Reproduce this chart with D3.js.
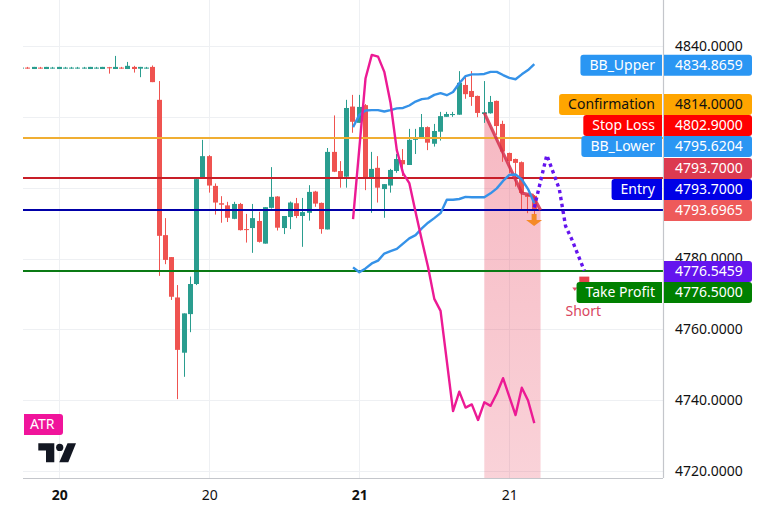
<!DOCTYPE html>
<html>
<head>
<meta charset="utf-8">
<script src="https://cdn.jsdelivr.net/npm/d3@7"></script>
<style>
  html, body { margin: 0; padding: 0; background: #fff; }
  svg { display: block; }
  text { font-family: "Noto Sans", sans-serif; font-size: 14px; }
</style>
</head>
<body>
<svg id="chart" width="771" height="521"></svg>
<script>
// Hourly XAUUSD-style candles, one value per bar
const opens = [4833.7,4833.9,4833.5,4833.9,4833.5,4833.7,4833.5,4833.7,4833.7,4833.7,4833.7,4833.5,4833.7,4833.5,4834.0,4833.5,4833.9,4833.5,4834.1,4833.6,4833.7,4834.1,
  4824.8,4786.6,4780.4,4769.0,4753.4,4764.3,4772.8,4802.9,4808.9,4800.5,4795.6,4795.0,4791.2,4795.4,4788.3,4788.6,4790.6,4784.2,4794.3,4797.5,4788.6,4791.7,4795.6,4792.0,4792.9,4798.9,4795.7,4788.2,4810.1,4804.7,4803.1,
  4822.9,4818.3,4823.3,4803.0,4805.6,4799.6,4800.6,4804.7,4807.8,4806.4,4813.5,4814.2,4817.1,4812.4,4815.8,4820.0,4820.5,4820.6,4829.0,4827.3,4825.9,4820.8,4821.0,4824.5,4818.0,4809.8,4808.1,4807.2,4797.9,4797.7];
const highs = [4834.1,4834.1,4834.1,4834.1,4834.1,4834.1,4834.1,4834.1,4834.1,4834.1,4834.1,4834.1,4834.1,4834.1,4834.1,4837.2,4834.1,4835.5,4834.4,4834.1,4834.1,4834.5,
  4830.1,4791.4,4780.4,4772.5,4764.5,4774.9,4802.4,4813.5,4809.2,4801.2,4797.6,4796.0,4796.0,4795.7,4792.6,4795.4,4793.2,4794.5,4805.8,4797.6,4792.0,4796.1,4797.1,4797.1,4800.7,4799.1,4795.8,4811.2,4820.4,4807.5,4824.8,
  4826.2,4826.2,4823.6,4810.1,4808.9,4801.0,4805.3,4809.5,4810.9,4816.6,4816.6,4820.8,4817.3,4818.0,4821.4,4821.4,4821.4,4832.9,4831.5,4832.9,4826.0,4830.1,4825.9,4824.6,4818.9,4809.9,4808.2,4807.4,4798.1,4797.9];
const lows = [4833.6,4833.6,4833.5,4833.6,4833.5,4833.6,4833.5,4833.6,4833.6,4833.6,4833.6,4833.5,4833.6,4833.5,4832.2,4833.5,4833.6,4833.5,4832.5,4831.2,4833.6,4829.8,
  4775.1,4778.4,4768.3,4740.3,4746.6,4759.2,4772.5,4802.9,4798.6,4792.4,4790.1,4790.3,4791.1,4787.9,4784.5,4781.6,4784.5,4784.2,4794.1,4787.9,4786.9,4788.3,4791.4,4783.3,4790.7,4794.6,4787.0,4788.2,4804.4,4800.0,4800.0,
  4815.5,4818.3,4799.3,4792.9,4795.8,4791.5,4798.6,4804.2,4803.3,4806.4,4809.5,4814.2,4810.6,4811.6,4813.3,4820.0,4820.0,4820.6,4825.1,4823.1,4819.9,4818.3,4820.9,4814.9,4807.3,4804.1,4800.3,4793.7,4792.8,4792.3];
const closes = [4833.9,4833.7,4834.1,4833.7,4834.1,4833.9,4834.1,4833.9,4833.9,4833.9,4833.9,4834.1,4833.9,4834.1,4833.7,4834.1,4833.7,4834.4,4833.5,4834.1,4833.9,4829.8,
  4786.4,4779.6,4769.2,4754.2,4764.5,4772.8,4802.4,4808.9,4800.6,4795.8,4795.2,4791.5,4795.4,4788.0,4788.1,4791.4,4784.7,4794.5,4797.4,4788.7,4792.0,4795.8,4792.0,4793.1,4798.8,4795.5,4788.3,4810.1,4804.5,4802.8,4822.5,
  4818.6,4822.8,4802.8,4805.3,4800.0,4801.0,4805.0,4808.1,4806.6,4813.5,4813.8,4817.1,4812.7,4816.0,4820.2,4820.8,4820.8,4829.6,4826.4,4825.6,4821.1,4821.3,4824.2,4817.4,4810.2,4807.5,4807.0,4798.5,4797.4,4793.6965];

// Bollinger bands and the ATR trace start at this bar
const bandStart = 53;
const bbUpper = [4817.1,4820.5,4821.8,4821.9,4821.9,4821.5,4821.9,4822.4,4822.5,4823.2,4824.3,4825.0,4825.2,4826.2,4826.7,4826.1,4827.0,4829.5,4831.5,4832.0,4832.0,4832.1,4832.7,4832.7,4831.8,4831.0,4830.6,4832.0,4833.2,4834.8659];
const bbLower = [4777.5,4776.1,4777.2,4778.6,4779.4,4781.4,4782.1,4782.7,4784.2,4785.7,4786.6,4788.5,4790.1,4791.4,4792.8,4796.6,4796.6,4796.8,4797.4,4797.3,4797.3,4797.3,4798.4,4799.8,4801.9,4803.6,4803.7,4802.3,4799.6,4795.6204];
// ATR rescaled onto the price axis
const atrOnPrice = [4791.1,4811.0,4830.9,4837.5,4837.0,4832.7,4823.9,4810.6,4804.1,4801.3,4793.1,4785.2,4777.6,4768.6,4765.2,4751.1,4736.9,4742.4,4737.9,4738.8,4734.4,4739.4,4738.4,4741.9,4746.2,4741.0,4735.8,4743.5,4739.9,4733.5];

// Forecast path after the last bar
const forecastBars = [82, 84, 86, 87, 88, 90];
const forecastPrices = [4794.4, 4809.2, 4799.6, 4789.2, 4785.4, 4776.5459];

// Trade path; the shaded zone fills everything beneath it
const tradeBars = [74, 80, 81.7, 83];
const tradePrices = [4821.1, 4798.5, 4797.9, 4793.7];

// Horizontal trade levels
const levelPrices = [4814, 4802.9, 4793.7, 4776.5];
const levelColors = ["#f0ae33", "#c81e28", "#0000a8", "#0a7a14"];

// Grid prices, and the ones that get a printed label (the tag stack covers the others)
const priceTicks = [4720, 4740, 4760, 4780, 4800, 4820, 4840];
const labelledPrices = [4720, 4740, 4760, 4780, 4840];
const dayBars = [6, 30, 54, 78];
const dayLabels = ["20", "20", "21", "21"];
const dayBold = [true, false, true, false];

// Right-hand tags; tagRows counts tag heights away from the anchor price
const tagNames = ["BB_Upper", "Confirmation", "Stop Loss", "BB_Lower", "", "Entry", "", "", "Take Profit"];
const tagValues = ["4834.8659", "4814.0000", "4802.9000", "4795.6204", "4793.7000", "4793.7000", "4793.6965", "4776.5459", "4776.5000"];
const tagAnchors = [4834.8659, 4793.6965, 4793.6965, 4793.6965, 4793.6965, 4793.6965, 4793.6965, 4776.5459, 4776.5459];
const tagRows = [0.04, -5.05, -4.05, -3.05, -2, -1, 0, 0, 1];
const tagFills = ["#2a96f3", "#ffa500", "#ff0000", "#2a96f3", "#dc3a50", "#0000e6", "#ee5a5a", "#6414ee", "#008000"];
const tagInks = ["#fff", "#111", "#fff", "#fff", "#fff", "#fff", "#fff", "#fff", "#fff"];

const shortBar = 90;
const shortPrice = 4773.9;

const svg = d3.select("#chart");
const plot = { left: 23, right: 663, top: 0, bottom: 478 };
const tagH = 21;

const x = d3.scaleLinear().domain([0, 100]).range([21.8, 646.8]);
const y = d3.scaleLinear().domain([4720, 4840]).range([471, 46]);

const defs = svg.append("defs");
defs.append("clipPath").attr("id", "plot-clip").append("rect")
  .attr("x", plot.left).attr("y", plot.top)
  .attr("width", plot.right - plot.left).attr("height", plot.bottom - plot.top);
const grad = defs.append("linearGradient").attr("id", "zone-fill")
  .attr("x1", 0).attr("y1", 0).attr("x2", 0).attr("y2", 1);
grad.append("stop").attr("offset", 0).attr("stop-color", "#e8455f").attr("stop-opacity", 0.38);
grad.append("stop").attr("offset", 1).attr("stop-color", "#e8455f").attr("stop-opacity", 0.24);

// Grid
const gridColor = "#eef0f3";
svg.append("g").selectAll("line").data(priceTicks).join("line")
  .attr("x1", plot.left).attr("x2", plot.right)
  .attr("y1", d => Math.round(y(d)) + 0.5).attr("y2", d => Math.round(y(d)) + 0.5)
  .attr("stroke", gridColor);
svg.append("g").selectAll("line").data(dayBars).join("line")
  .attr("x1", d => Math.floor(x(d) - 0.1) + 0.5).attr("x2", d => Math.floor(x(d) - 0.1) + 0.5)
  .attr("y1", plot.top).attr("y2", plot.bottom)
  .attr("stroke", gridColor);

const g = svg.append("g").attr("clip-path", "url(#plot-clip)");

// Shaded trade zone
const zoneArea = d3.area().x(d => x(d[0])).y0(plot.bottom).y1(d => y(d[1]));
g.append("path")
  .attr("d", zoneArea(tradeBars.map((b, i) => [b, tradePrices[i]])))
  .attr("fill", "url(#zone-fill)");

// Candles
const barIdx = d3.range(opens.length);
const colorOf = i => closes[i] >= opens[i] ? "#2a9d8f" : "#ef5350";
const px = i => Math.floor(x(i) - 0.1);
g.append("g").selectAll("rect").data(barIdx).join("rect")
  .attr("x", px).attr("width", 1)
  .attr("y", i => y(highs[i]))
  .attr("height", i => y(lows[i]) - y(highs[i]))
  .attr("fill", colorOf);
g.append("g").selectAll("rect").data(barIdx).join("rect")
  .attr("x", i => px(i) - 2).attr("width", 5)
  .attr("y", i => y(Math.max(opens[i], closes[i])))
  .attr("height", i => Math.max(1, y(Math.min(opens[i], closes[i])) - y(Math.max(opens[i], closes[i]))))
  .attr("fill", colorOf);

// Trade levels, snapped to whole pixels so the 2px strokes stay crisp
g.append("g").selectAll("line").data(levelPrices).join("line")
  .attr("x1", plot.left).attr("x2", plot.right)
  .attr("y1", d => Math.round(y(d) + 0.2)).attr("y2", d => Math.round(y(d) + 0.2))
  .attr("stroke", (d, i) => levelColors[i])
  .attr("stroke-width", 2);

// Band, ATR and trade lines
const line = d3.line().x(d => x(d[0])).y(d => y(d[1]));
const series = arr => arr.map((v, i) => [bandStart + i, v]);
g.append("path").attr("d", line(tradeBars.map((b, i) => [b, tradePrices[i]])))
  .attr("fill", "none").attr("stroke", "#d42f4c").attr("stroke-opacity", 0.85).attr("stroke-width", 3.2);
[bbUpper, bbLower].forEach(arr => {
  g.append("path").attr("d", line(series(arr)))
    .attr("fill", "none").attr("stroke", "#3592e8").attr("stroke-width", 2.4)
    .attr("stroke-linejoin", "round");
});
g.append("path").attr("d", line(series(atrOnPrice)))
  .attr("fill", "none").attr("stroke", "#ec1a94").attr("stroke-width", 2.4)
  .attr("stroke-linejoin", "round");

// Dotted forecast
g.append("path").attr("d", line(forecastBars.map((b, i) => [b, forecastPrices[i]])))
  .attr("fill", "none").attr("stroke", "#6414ee").attr("stroke-width", 3.4)
  .attr("stroke-dasharray", "3.4 3.6");

// Down arrow under the last bar
const arrowX = x(82) - 0.2;
const arrowY = y(4790.9);
g.append("path")
  .attr("d", `M${arrowX - 2.5},${arrowY - 6}h5v6h5.5l-8,6l-8,-6h5.5z`)
  .attr("fill", "#f58a26");

// Short signal marker
g.append("rect").attr("x", x(shortBar) - 5).attr("y", y(shortPrice) - 3.5)
  .attr("width", 10).attr("height", 8).attr("fill", "#e8414f");
g.append("path")
  .attr("d", `M${x(shortBar) - 12},${y(shortPrice) + 7.5}h5l-2.5,3.5z`)
  .attr("fill", "#e0526a");
svg.append("text").attr("x", x(shortBar) - 1).attr("y", y(shortPrice) + 36)
  .attr("text-anchor", "middle").attr("fill", "#d9475f").text("Short");

// Price axis
const yAxis = svg.append("g").attr("transform", `translate(${plot.right},0)`)
  .call(d3.axisRight(y).tickValues(labelledPrices).tickFormat(d3.format(".4f")).tickSize(0).tickPadding(12));
yAxis.select(".domain").remove();
yAxis.selectAll("text").attr("fill", "#111").style("font-size", "14px").style("font-family", '"Noto Sans", sans-serif');

// Time axis
const xAxis = svg.append("g").attr("transform", `translate(0,${plot.bottom})`)
  .call(d3.axisBottom(x).tickValues(dayBars).tickFormat((d, i) => dayLabels[i]).tickSize(0).tickPadding(12));
xAxis.select(".domain").remove();
xAxis.selectAll("text").attr("fill", "#111")
  .style("font-size", "14px").style("font-family", '"Noto Sans", sans-serif')
  .style("font-weight", (d, i) => dayBold[i] ? 700 : 400);

svg.append("line").attr("x1", plot.left).attr("x2", plot.right)
  .attr("y1", plot.bottom + 0.5).attr("y2", plot.bottom + 0.5).attr("stroke", "#c4c6cb").attr("stroke-width", 1.2);
svg.append("line").attr("x1", plot.right + 0.5).attr("x2", plot.right + 0.5)
  .attr("y1", plot.top).attr("y2", plot.bottom).attr("stroke", "#c4c6cb").attr("stroke-width", 1.2);

// Rect with rounding on one side only
const sideBox = (bx, by, w, h, r, left) => left
  ? `M${bx + w},${by}H${bx + r}Q${bx},${by} ${bx},${by + r}V${by + h - r}Q${bx},${by + h} ${bx + r},${by + h}H${bx + w}Z`
  : `M${bx},${by}H${bx + w - r}Q${bx + w},${by} ${bx + w},${by + r}V${by + h - r}Q${bx + w},${by + h} ${bx + w - r},${by + h}H${bx}Z`;

// Name and value tags
tagValues.forEach((val, i) => {
  const cy = Math.round(y(tagAnchors[i])) + 0.5 + tagRows[i] * tagH;
  const top = cy - tagH / 2;
  const tag = svg.append("g");
  tag.append("path").attr("d", sideBox(plot.right + 1, top, 88, tagH, 3, false)).attr("fill", tagFills[i]);
  tag.append("text").attr("x", plot.right + 12).attr("y", cy).attr("dy", "0.35em")
    .attr("fill", tagInks[i]).text(val);
  if (tagNames[i]) {
    const label = tag.append("text").attr("x", plot.right - 8).attr("y", cy).attr("dy", "0.35em")
      .attr("text-anchor", "end").attr("fill", tagInks[i]).text(tagNames[i]);
    const w = label.node().getComputedTextLength() + 16;
    tag.insert("path", "text:last-child")
      .attr("d", sideBox(plot.right - 1 - w, top, w, tagH, 3, true)).attr("fill", tagFills[i]);
  }
});

// ATR pane tag
svg.append("path").attr("d", "M24,414H60Q63,414 63,417V432Q63,435 60,435H24Z").attr("fill", "#f0149b");
svg.append("text").attr("x", 30).attr("y", 424.5).attr("dy", "0.35em").attr("fill", "#fff").text("ATR");

// Logo mark
const logo = svg.append("g").attr("fill", "#131722");
logo.append("path").attr("d", "M38.3,443.3H54.3V462.3H46V450.6H38.3Z");
logo.append("circle").attr("cx", 59.7).attr("cy", 447.4).attr("r", 3.6);
logo.append("path").attr("d", "M67.5,443.3H76L68.3,462.3H59.3Z");
</script>
</body>
</html>
